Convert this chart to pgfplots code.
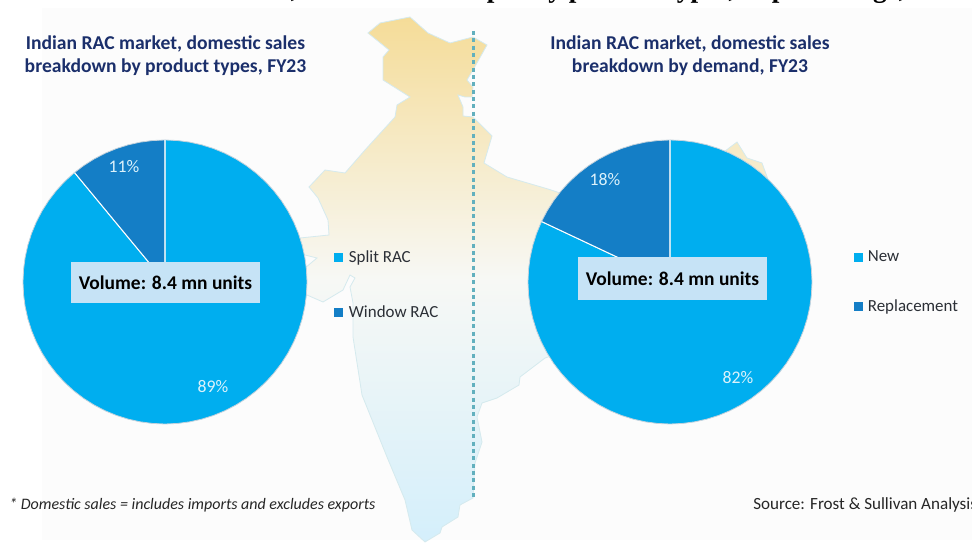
\documentclass[border=0pt]{standalone}
\usepackage{pgfplots}
\usepackage{fontspec}
\setmainfont{Carlito}
\newfontfamily\serifb{Liberation Serif}
\pgfplotsset{compat=1.18}
\usepgfplotslibrary{polar}
\definecolor{lightblue}{HTML}{00AEEF}
\definecolor{darkblue}{HTML}{147EC6}
\definecolor{navy}{HTML}{1B2F6B}
\definecolor{boxblue}{HTML}{C6E3F6}
\definecolor{edgegrey}{HTML}{C4D2DC}
\definecolor{pctwhite}{HTML}{DCF2FB}
\definecolor{legtext}{HTML}{2B2F36}
\definecolor{mapt}{HTML}{F5DC98}
\definecolor{mapm}{HTML}{F7F8F5}
\definecolor{mapb}{HTML}{D4EFFB}
\definecolor{mapedge}{HTML}{D5EAEE}
\definecolor{dashc}{HTML}{62B0BE}
\pgfplotsset{
  piestyle/.style={
    hide axis, scale only axis, clip=false,
    width=213pt, height=213pt, ymin=0, ymax=1, anchor=center,
    legend image code/.code={\fill[##1,draw=none] (0pt,-3.3pt) rectangle (6.7pt,3.3pt);},
  },
}
\begin{document}
\begin{tikzpicture}
\path[use as bounding box] (0,0) rectangle (729pt,408.75pt);
% background, map and divider, in pixel coordinates of the reference
\begin{axis}[
  at={(0,0)}, anchor=south west, scale only axis, hide axis,
  width=729pt, height=408.75pt,
  xmin=0, xmax=972, ymin=0, ymax=545, y dir=reverse, clip=false]
\addplot[fill=black!1.2, draw=none] coordinates {(42,8)(972,8)(972,540)(42,540)} --cycle;
\addplot[draw=mapedge, line width=0.6pt,
  top color=mapt, bottom color=mapb, middle color=mapm] coordinates {
  (368,33)(380,23)(410,17)(428,33)(450,43)(473,37)(487,45)(473,70)(467,80)(473,87)
  (472,97)(465,97)(458,95)(463,107)(463,116)(473,117)(492,136)(484,163)(507,177)
  (548,189)(560,193)(640,190)(700,170)(737,142)(747,158)(762,163)(790,240)(700,300)
  (600,340)(545,358)(520,377)(519,385)(497,398)(482,403)(477,417)(482,442)(475,463)
  (473,498)(460,505)(458,517)(442,527)(440,533)(425,542)(412,530)(405,500)(387,457)
  (362,395)(353,337)(353,303)(350,287)(355,278)(350,275)(343,290)(323,302)(307,295)
  (295,285)(305,268)(317,258)(285,250)(300,238)(329,235)(328,220)(318,198)(309,187)
  (325,170)(345,173)(365,150)(395,117)(397,105)(410,97)(383,80)(383,57)(389,50)
} --cycle;
\addplot[draw=dashc, solid, line width=1.7pt, dash pattern=on 3pt off 2.5pt] coordinates {(473.5,31)(473.5,498)};
\end{axis}
% left pie
\begin{polaraxis}[piestyle, at={(123.75pt,197.25pt)},
  legend style={draw=none, fill=none, at={(1.095,0.62)}, anchor=north west,
    inner sep=0pt, row sep=27pt, column sep=2.3pt, font=\fontsize{12.7}{14}\selectfont\color{legtext}},
  legend cell align=left]
\addplot[fill=lightblue, draw=edgegrey, line width=0.6pt] coordinates {
 (0,0)(129.6,1)(130,1)(135,1)(140,1)(145,1)(150,1)(155,1)(160,1)(165,1)(170,1)(175,1)(180,1)
 (185,1)(190,1)(195,1)(200,1)(205,1)(210,1)(215,1)(220,1)(225,1)(230,1)(235,1)(240,1)(245,1)
 (250,1)(255,1)(260,1)(265,1)(270,1)(275,1)(280,1)(285,1)(290,1)(295,1)(300,1)(305,1)(310,1)
 (315,1)(320,1)(325,1)(330,1)(335,1)(340,1)(345,1)(350,1)(355,1)(0,1)(5,1)(10,1)(15,1)(20,1)
 (25,1)(30,1)(35,1)(40,1)(45,1)(50,1)(55,1)(60,1)(65,1)(70,1)(75,1)(80,1)(85,1)(90,1)};
\addlegendentry{Split RAC}
\addplot[fill=darkblue, draw=edgegrey, line width=0.6pt] coordinates {
 (0,0)(90,1)(95,1)(100,1)(105,1)(110,1)(115,1)(120,1)(125,1)(129.6,1)};
\addlegendentry{Window RAC}
\addplot[white, line width=0.8pt, forget plot] coordinates {(129.6,1)(0,0)(90,1)};
\end{polaraxis}
% right pie
\begin{polaraxis}[piestyle, at={(502.5pt,197.25pt)},
  legend style={draw=none, fill=none, at={(1.148,0.62)}, anchor=north west,
    inner sep=0pt, row sep=23.2pt, column sep=1.5pt, font=\fontsize{12.7}{14}\selectfont\color{legtext}},
  legend cell align=left]
\addplot[fill=lightblue, draw=edgegrey, line width=0.6pt] coordinates {
 (0,0)(154.8,1)(155,1)(160,1)(165,1)(170,1)(175,1)(180,1)
 (185,1)(190,1)(195,1)(200,1)(205,1)(210,1)(215,1)(220,1)(225,1)(230,1)(235,1)(240,1)(245,1)
 (250,1)(255,1)(260,1)(265,1)(270,1)(275,1)(280,1)(285,1)(290,1)(295,1)(300,1)(305,1)(310,1)
 (315,1)(320,1)(325,1)(330,1)(335,1)(340,1)(345,1)(350,1)(355,1)(0,1)(5,1)(10,1)(15,1)(20,1)
 (25,1)(30,1)(35,1)(40,1)(45,1)(50,1)(55,1)(60,1)(65,1)(70,1)(75,1)(80,1)(85,1)(90,1)};
\addlegendentry{New}
\addplot[fill=darkblue, draw=edgegrey, line width=0.6pt] coordinates {
 (0,0)(90,1)(95,1)(100,1)(105,1)(110,1)(115,1)(120,1)(125,1)(130,1)(135,1)(140,1)(145,1)(150,1)(154.8,1)};
\addlegendentry{Replacement}
\addplot[white, line width=0.8pt, forget plot] coordinates {(154.8,1)(0,0)(90,1)};
\end{polaraxis}
% text layer
\begin{scope}[x=0.75pt,y=-0.75pt,yshift=408.75pt]
\node[anchor=base east, inner sep=0pt, font=\serifb\bfseries\fontsize{20.5}{22}\selectfont] at (906,-2.5)
  {Indian RAC market, domestic sales split by product types, in percentage,};
\foreach \cx/\a/\b in {165.5/Indian RAC market{,} domestic sales/breakdown by product types{,} FY23,
                       690/Indian RAC market{,} domestic sales/breakdown by demand{,} FY23}{
  \node[anchor=base, text=navy, font=\bfseries\fontsize{14.7}{16}\selectfont, inner sep=0pt] at (\cx,49.5) {\a};
  \node[anchor=base, text=navy, font=\bfseries\fontsize{14.7}{16}\selectfont, inner sep=0pt] at (\cx,72.5) {\b};
}
\fill[boxblue] (71,262) rectangle (260,303);
\fill[boxblue] (578,257) rectangle (767,300);
\node[text=black, font=\bfseries\fontsize{14.6}{16}\selectfont, inner sep=0pt] at (165.5,283) {Volume: 8.4 mn units};
\node[text=black, font=\bfseries\fontsize{14.6}{16}\selectfont, inner sep=0pt] at (672.5,279) {Volume: 8.4 mn units};
\foreach \x/\y/\t in {124/167/11\%, 213/387/89\%, 605/180/18\%, 738/378/82\%}
  \node[text=pctwhite, font=\fontsize{13.3}{15}\selectfont, inner sep=0pt] at (\x,\y) {\t};
\node[anchor=west, inner sep=0pt, text=black!85, font=\itshape\fontsize{12}{14}\selectfont] at (9,505)
  {* Domestic sales = includes imports and excludes exports};
\node[anchor=west, inner sep=0pt, text=black!85, font=\fontsize{12.8}{14}\selectfont] at (753,505)
  {Source: Frost \& Sullivan Analysis};
\end{scope}
\end{tikzpicture}
\end{document}
